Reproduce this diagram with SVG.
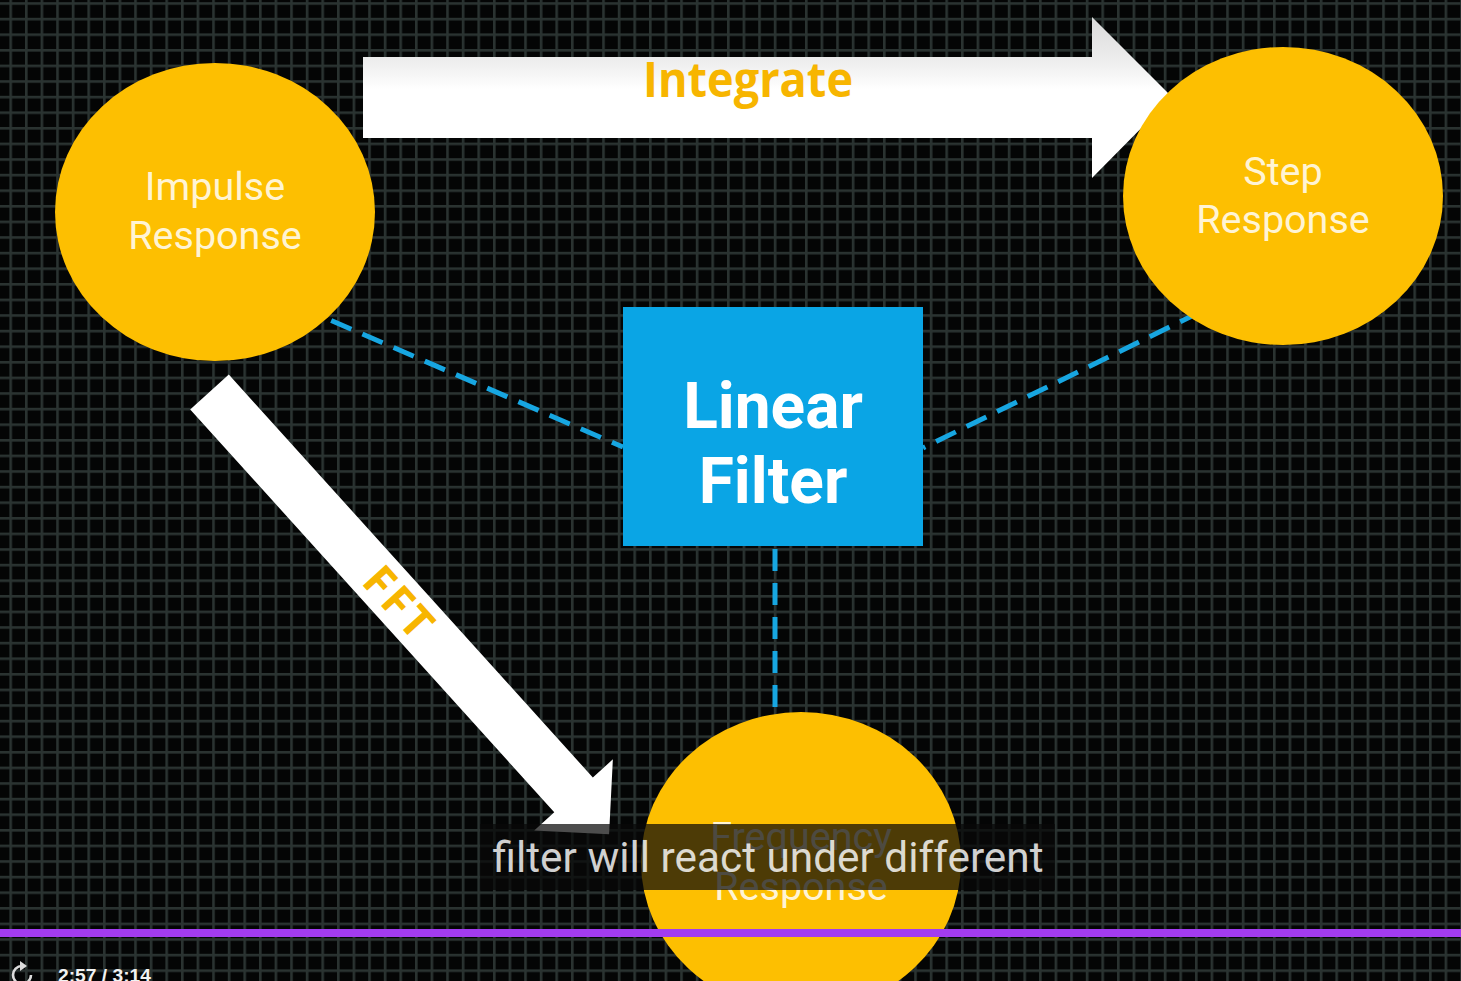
<svg xmlns="http://www.w3.org/2000/svg" width="1461" height="981" viewBox="0 0 1461 981">
  <defs>
    <pattern id="grid" patternUnits="userSpaceOnUse" x="9.4" y="2.2" width="15.6" height="15.6">
      <rect width="15.6" height="15.6" fill="#040505"/>
      <rect width="2.6" height="15.6" fill="#2a3331"/>
      <rect width="15.6" height="2.6" fill="#2a3331"/>
    </pattern>
    <linearGradient id="shade" x1="0" y1="0" x2="0" y2="1">
      <stop offset="0" stop-color="#dadada"/>
      <stop offset="0.28" stop-color="#eeeeee"/>
      <stop offset="0.45" stop-color="#ffffff"/>
      <stop offset="1" stop-color="#ffffff"/>
    </linearGradient>
  </defs>
  <style>
    .node { fill: #fdbf01; }
    .ntext { font-family: Roboto, "Liberation Sans", sans-serif; font-size: 39.5px; fill: #fff4d4; text-anchor: middle; }
    .dash { stroke: #17a6e1; stroke-width: 5; stroke-dasharray: 22 12; fill: none; }
    .arrow { fill: #ffffff; }
    .alabel { font-family: "Open Sans", "Liberation Sans", sans-serif; font-weight: 700; fill: #f7b500; text-anchor: middle; }
    .btext { font-family: Roboto, "Liberation Sans", sans-serif; font-weight: 700; font-size: 64px; fill: #ffffff; text-anchor: middle; }
  </style>

  <rect x="0" y="0" width="1461" height="981" fill="url(#grid)"/>

  <g id="connectors">
    <line class="dash" x1="300" y1="307" x2="623" y2="447"/>
    <line class="dash" x1="1200" y1="312" x2="923" y2="448"/>
    <line class="dash" x1="775" y1="549" x2="775" y2="716"/>
    <g id="integrate-arrow">
      <polygon points="363,57 1092,57 1092,17 1172,97 1092,178 1092,138 363,138" fill="url(#shade)"/>
      <text class="alabel" x="748" y="97" font-size="48" textLength="210" lengthAdjust="spacingAndGlyphs">Integrate</text>
    </g>
    <g id="fft-arrow" transform="translate(209.5,392) rotate(47.9)">
      <polygon class="arrow" points="0,-26 543,-26 543,-53 596,0 543,53 543,26 0,26"/>
      <text class="alabel" x="284" y="16" font-size="44" font-weight="600" letter-spacing="3">FFT</text>
    </g>
  </g>

  <g id="impulse-response">
    <ellipse class="node" cx="215" cy="212" rx="160" ry="149"/>
    <text class="ntext" x="215" y="200">Impulse</text>
    <text class="ntext" x="215" y="249">Response</text>
  </g>

  <g id="step-response">
    <ellipse class="node" cx="1283" cy="196" rx="160" ry="149"/>
    <text class="ntext" x="1283" y="185">Step</text>
    <text class="ntext" x="1283" y="233">Response</text>
  </g>

  <g id="linear-filter">
    <rect x="623" y="307" width="300" height="239" fill="#0aa5e5"/>
    <text class="btext" x="773" y="428">Linear</text>
    <text class="btext" x="773" y="503">Filter</text>
  </g>

  <g id="frequency-response">
    <ellipse class="node" cx="801" cy="862" rx="160" ry="150"/>
    <text class="ntext" x="801" y="850">Frequency</text>
    <text class="ntext" x="801" y="900">Response</text>
  </g>

  <g id="subtitle">
    <rect x="480" y="824" width="575" height="66" fill="#080808" fill-opacity="0.72"/>
    <text x="768" y="872" font-family="Roboto, 'Liberation Sans', sans-serif" font-size="42" fill="#ffffff" fill-opacity="0.82" text-anchor="middle" textLength="551" lengthAdjust="spacingAndGlyphs">filter will react under different</text>
  </g>

  <g id="player">
    <rect x="0" y="929" width="1461" height="8" fill="#a23cf0"/>
    <path d="M 22 966 A 9 9 0 1 0 31 975" fill="none" stroke="#dcdcdc" stroke-width="2.6"/>
    <polygon points="20,961 27,966 20,971" fill="#dcdcdc"/>
    <text x="58" y="982" font-family="'Liberation Sans', Arial, sans-serif" font-weight="700" font-size="19" fill="#f2f2f2" textLength="93" lengthAdjust="spacingAndGlyphs">2:57 / 3:14</text>
  </g>
</svg>
